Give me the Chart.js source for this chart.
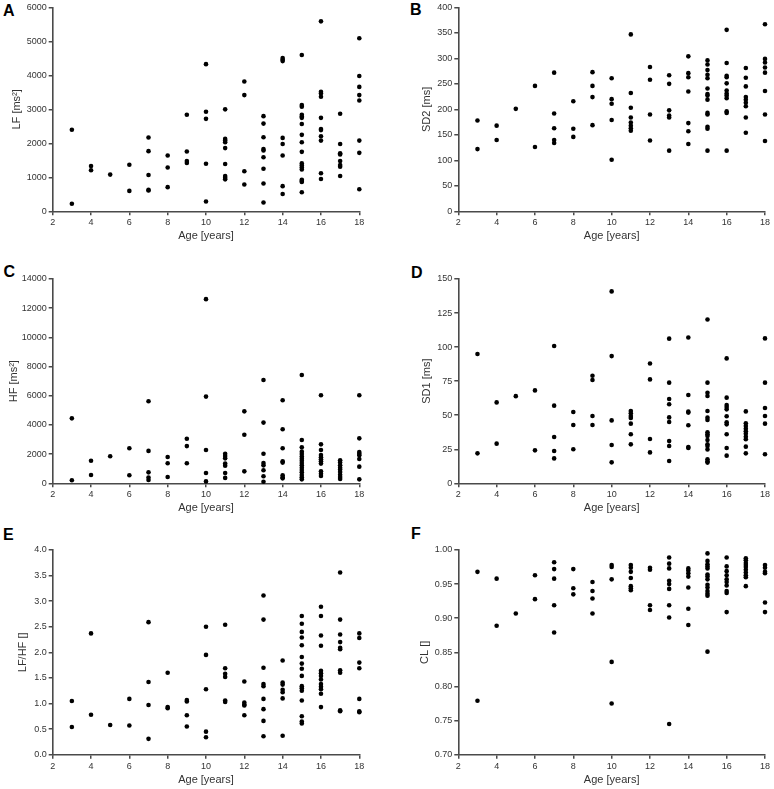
<!DOCTYPE html>
<html>
<head>
<meta charset="utf-8">
<script src="https://cdn.jsdelivr.net/npm/chart.js@4/dist/chart.umd.min.js"></script>
<style>
  body { margin: 0; background: #fff; width: 774px; height: 789px; position: relative; overflow: hidden;
         font-family: "Liberation Sans", Arial, sans-serif; }
  canvas { position: absolute; }
  .tag { position: absolute; font-weight: bold; font-size: 16px; line-height: 16px; color: #000; }
</style>
</head>
<body>
<div class="tag" style="left:3px;top:2.5px">A</div>
<div class="tag" style="left:410px;top:2px">B</div>
<div class="tag" style="left:3.5px;top:264px">C</div>
<div class="tag" style="left:411px;top:265px">D</div>
<div class="tag" style="left:3px;top:527px">E</div>
<div class="tag" style="left:411px;top:526px">F</div>

<script>
// ages on the x axis, one group of values per age
const ages = [3, 4, 5, 6, 7, 8, 9, 10, 11, 12, 13, 14, 15, 16, 17, 18];

const lfByAge = [
  [2400, 220], [1330, 1210], [1080], [1370, 600],
  [2170, 1770, 1070, 630, 610], [1640, 1290, 710], [2840, 1760, 1480, 1420],
  [4330, 2930, 2720, 1400, 290],
  [3000, 2130, 2080, 2030, 1860, 1390, 1040, 990, 940],
  [3820, 3420, 1180, 790],
  [2800, 2580, 2180, 1830, 1790, 1590, 1250, 820, 260],
  [4510, 4460, 4420, 2160, 1980, 1640, 740, 510],
  [4600, 3130, 3080, 2840, 2790, 2750, 2570, 2250, 2030, 1750, 1410, 1350, 1290, 1230, 930, 890, 860, 560],
  [5590, 3520, 3470, 3370, 2750, 2420, 2390, 2210, 2080, 1120, 950],
  [2870, 1980, 1710, 1670, 1480, 1360, 1310, 1040],
  [5090, 3980, 3660, 3420, 3260, 2080, 1720, 650]
];

const sd2ByAge = [
  [178, 122], [168, 140], [201], [246, 126],
  [272, 192, 163, 140, 134], [216, 162, 146], [273, 246, 224, 169],
  [261, 220, 211, 179, 101],
  [347, 232, 203, 184, 174, 168, 163, 158],
  [283, 258, 190, 139],
  [267, 250, 198, 188, 184, 119],
  [304, 271, 263, 235, 173, 157, 132],
  [296, 288, 277, 268, 261, 241, 230, 227, 219, 193, 190, 166, 162, 119],
  [356, 291, 266, 263, 251, 237, 231, 227, 222, 196, 193, 119],
  [281, 262, 245, 224, 219, 213, 206, 184, 154],
  [367, 299, 292, 282, 272, 236, 190, 138]
];

const hfByAge = [
  [4450, 210], [1550, 570], [1850], [2400, 550],
  [5620, 2220, 750, 390, 230], [1800, 1370, 430], [3050, 2550, 1370],
  [12620, 5940, 2280, 710, 130],
  [2030, 1870, 1710, 1350, 1210, 710, 370],
  [4930, 3330, 820],
  [7080, 4160, 2030, 1390, 1230, 890, 480, 110],
  [5690, 3700, 2400, 1510, 1420, 550, 410, 340],
  [7420, 2970, 2470, 2170, 2010, 1830, 1690, 1550, 1390, 1230, 1070, 910, 750, 570, 410, 270],
  [6030, 2670, 2280, 1940, 1780, 1640, 1510, 1350, 820, 660, 500],
  [1580, 1420, 1230, 1070, 940, 780, 590, 430, 300],
  [6030, 3080, 2150, 2030, 1920, 1670, 1140, 270]
];

const sd1ByAge = [
  [94.9, 22], [59.4, 29.1], [64], [68.2, 24.2],
  [100.8, 57, 34, 23.7, 18.3], [52.3, 42.8, 25], [79, 75.8, 49.4, 42.8],
  [140.9, 93.4, 46.2, 28.1, 15.4],
  [53, 51.4, 49.4, 47.9, 43.8, 36, 28.6],
  [88, 76.3, 32.5, 22.7],
  [106.2, 73.9, 61.9, 58, 48.4, 45, 31, 27.4, 16.4],
  [107.1, 64.8, 52.6, 51.9, 42.6, 26.7, 25.9],
  [120.3, 73.9, 66.5, 64.1, 53.1, 48.2, 46.5, 37.4, 36, 34.7, 31.8, 28.6, 27.4, 24.9, 17.6, 16.1, 15.2],
  [91.7, 62.9, 57.5, 56, 54.3, 49.2, 44.8, 43.3, 36, 25.9, 20.3],
  [52.8, 44, 42.1, 40.1, 38.2, 36.4, 34.2, 32.3, 26.9, 22],
  [106.4, 73.9, 55.3, 49.4, 43.8, 21.3]
];

const lfhfByAge = [
  [1.05, 0.54], [2.37, 0.78], [0.58], [1.09, 0.57],
  [2.59, 1.42, 0.97, 0.31], [1.60, 0.93, 0.91], [1.07, 1.04, 0.77, 0.55],
  [2.50, 1.95, 1.28, 0.45, 0.34],
  [2.54, 1.69, 1.58, 1.52, 1.06, 1.03],
  [1.43, 1.02, 0.98, 0.96, 0.77],
  [3.11, 2.64, 1.70, 1.38, 1.34, 1.09, 0.89, 0.66, 0.36],
  [1.84, 1.41, 1.37, 1.27, 1.22, 1.10, 0.37],
  [2.71, 2.56, 2.40, 2.29, 2.14, 1.91, 1.78, 1.68, 1.54, 1.34, 1.30, 1.25, 1.06, 0.75, 0.65, 0.61],
  [2.89, 2.71, 2.33, 2.13, 1.64, 1.59, 1.54, 1.47, 1.38, 1.33, 1.28, 1.19, 0.93],
  [3.56, 2.64, 2.35, 2.20, 2.09, 2.06, 1.65, 1.60, 0.87, 0.85],
  [2.37, 2.28, 1.80, 1.69, 1.09, 0.85, 0.83]
];

const clByAge = [
  [0.968, 0.779], [0.958, 0.889], [0.907], [0.963, 0.928],
  [0.982, 0.972, 0.958, 0.919, 0.879], [0.972, 0.944, 0.935], [0.953, 0.940, 0.929, 0.907],
  [0.978, 0.975, 0.957, 0.836, 0.775],
  [0.978, 0.974, 0.968, 0.959, 0.947, 0.944, 0.941],
  [0.974, 0.971, 0.919, 0.912],
  [0.989, 0.980, 0.973, 0.955, 0.950, 0.943, 0.919, 0.901, 0.745],
  [0.973, 0.970, 0.966, 0.961, 0.945, 0.914, 0.890],
  [0.995, 0.984, 0.979, 0.976, 0.973, 0.964, 0.961, 0.957, 0.949, 0.945, 0.940, 0.936, 0.933, 0.851],
  [0.989, 0.976, 0.969, 0.963, 0.957, 0.953, 0.948, 0.940, 0.937, 0.909],
  [0.988, 0.985, 0.981, 0.978, 0.975, 0.971, 0.967, 0.963, 0.960, 0.947],
  [0.978, 0.974, 0.968, 0.966, 0.923, 0.909]
];

// panel layout (page pixels)
const cols = [
  { left: 0, width: 380, plotLeft: 52.7, plotRight: 359.3 },
  { left: 390, width: 384, plotLeft: 458.3, plotRight: 765 }
];
const rows = [
  { top: 0, height: 245, plotTop: 6.7, plotBottom: 211.3 },
  { top: 265, height: 252, plotTop: 279, plotBottom: 483.3 },
  { top: 536, height: 253, plotTop: 550, plotBottom: 754.7 }
];

const panels = [
  { data: lfByAge,   title: 'LF [ms²]',  min: 0,   max: 6000,  step: 1000, dec: 0, col: 0, row: 0, titleX: 16.7 },
  { data: sd2ByAge,  title: 'SD2 [ms]',  min: 0,   max: 400,   step: 50,   dec: 0, col: 1, row: 0, titleX: 427.3 },
  { data: hfByAge,   title: 'HF [ms²]',  min: 0,   max: 14000, step: 2000, dec: 0, col: 0, row: 1, titleX: 13.8 },
  { data: sd1ByAge,  title: 'SD1 [ms]',  min: 0,   max: 150,   step: 25,   dec: 0, col: 1, row: 1, titleX: 427.3 },
  { data: lfhfByAge, title: 'LF/HF []',  min: 0,   max: 4,     step: 0.5,  dec: 1, col: 0, row: 2, titleX: 23.3 },
  { data: clByAge,   title: 'CL []',     min: 0.7, max: 1.0,   step: 0.05, dec: 2, col: 1, row: 2, titleX: 425 }
];

Chart.defaults.font.family = '"Liberation Sans", Arial, sans-serif';

const axisColor = '#4a4a4a';
const textColor = '#333';
const tickFont = { size: 9 };
const titleFont = { size: 11 };

function makePanel(p) {
  const c = cols[p.col], r = rows[p.row];
  const cv = document.createElement('canvas');
  cv.width = c.width;
  cv.height = r.height;
  cv.style.left = c.left + 'px';
  cv.style.top = r.top + 'px';
  cv.style.width = c.width + 'px';
  cv.style.height = r.height + 'px';
  document.body.appendChild(cv);

  const points = [];
  ages.forEach((a, i) => p.data[i].forEach(v => points.push({ x: a, y: v })));

  const yW = c.plotLeft - c.left;
  const xH = r.top + r.height - r.plotBottom;
  const lh = titleFont.size * 1.2;

  new Chart(cv.getContext('2d'), {
    type: 'scatter',
    data: { datasets: [{ data: points, pointRadius: 2.3, pointHoverRadius: 2.3,
      backgroundColor: '#000', borderWidth: 0, clip: false }] },
    options: {
      responsive: false, animation: false, devicePixelRatio: 1,
      layout: { padding: { top: r.plotTop - r.top, right: c.left + c.width - c.plotRight, left: 0, bottom: 0 } },
      plugins: { legend: { display: false }, tooltip: { enabled: false } },
      scales: {
        x: {
          type: 'linear', min: 2, max: 18,
          ticks: { stepSize: 2, font: tickFont, color: textColor, padding: 2, maxRotation: 0 },
          grid: { drawOnChartArea: false, drawTicks: true, tickLength: 4, color: axisColor, lineWidth: 1.5 },
          border: { color: axisColor, width: 1.6 },
          title: { display: true, text: 'Age [years]', font: titleFont, color: textColor, padding: { top: 0, bottom: 2 } },
          afterFit: s => { s.height = xH; }
        },
        y: {
          type: 'linear', min: p.min, max: p.max,
          ticks: { stepSize: p.step, font: tickFont, color: textColor, padding: 2,
            callback: v => Number(v).toFixed(p.dec) },
          grid: { drawOnChartArea: false, drawTicks: true, tickLength: 4, color: axisColor, lineWidth: 1.5 },
          border: { color: axisColor, width: 1.6 },
          title: { display: true, text: p.title, font: titleFont, color: textColor,
            padding: { top: p.titleX - c.left - lh / 2, bottom: 0 } },
          afterFit: s => { s.width = yW; }
        }
      }
    }
  });
}

panels.forEach(makePanel);
</script>
</body>
</html>
